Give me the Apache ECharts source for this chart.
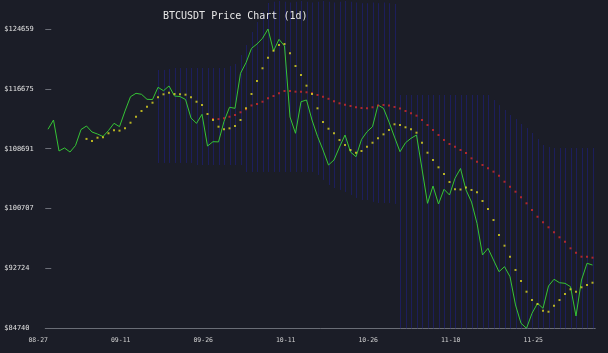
<!DOCTYPE html>
<html>
<head>
<meta charset="utf-8">
<script src="https://cdn.jsdelivr.net/npm/echarts@6/dist/echarts.min.js"></script>
<style>
html, body { margin: 0; padding: 0; background: #1b1d27; }
#report_chart { width: 608px; height: 353px; }
</style>
</head>
<body>
<div id="report_chart"></div>
<script>
// daily closes, 08-27 .. 12-04
var closes = [111290,112520,108390,108790,108250,109120,111250,111720,110920,110650,
	110320,111120,112080,111630,113720,115630,116080,115950,115280,115250,
	116880,116430,117060,115720,115650,115260,112790,112080,113280,109050,
	109630,109600,112320,114220,114080,118750,120160,122080,122660,123420,
	124659,121720,123280,122390,112920,110750,114960,115190,112520,110350,
	108520,106520,107190,108920,110520,108250,107630,109920,110960,111630,
	114520,114080,112250,110250,108290,109490,110080,110520,105990,101410,
	103720,101320,103280,102520,104750,106050,103190,101580,98740,94520,
	95410,93850,92290,92960,91620,87850,85410,84740,86740,88070,
	87410,90380,91280,90820,90740,90290,86380,91180,93410,93180];

// short average (yellow), starts at day 7
var maShort = [110000,109720,110160,110210,110750,111150,111100,111410,112160,112960,
	113720,114300,114830,115550,115950,116160,115990,115950,115900,115550,
	114960,114520,113320,112520,111630,111280,111410,111720,112520,114080,
	115990,117720,119420,120830,121760,122520,122660,121420,119720,118520,
	117100,115990,114080,112250,111360,110750,109850,109190,108520,108160,
	108390,108960,109490,110080,110610,111190,111950,111850,111550,111280,
	110830,109490,108160,107190,106210,105320,104250,103290,103250,103520,
	103190,102880,101720,100650,99180,97180,95760,94290,92520,91050,
	89620,88510,87980,87090,86950,87750,88510,89320,89940,89620,
	90210,90520,90820];
var maShortStart = 7;

// long average (red), starts at day 30
var maLong = [112650,112640,112750,112960,113190,113550,113950,114460,114660,114960,
	115420,115720,116080,116390,116400,116300,116280,116220,116080,115860,
	115630,115350,115020,114750,114560,114390,114220,114120,114080,114220,
	114460,114520,114460,114260,114060,113720,113420,113100,112520,111850,
	111190,110520,109850,109320,108960,108520,108120,107410,106960,106520,
	106080,105630,105090,104290,103630,102960,102210,101410,100520,99620,
	98880,98210,97540,96880,96290,95410,94820,94290,94280,94160];
var maLongStart = 30;

// band (blue verticals), starts at day 20
var bandUpper = [119190,119190,119320,119460,119460,119460,119460,119460,119460,119460,
	119460,119460,119460,119720,119990,121190,122520,124260,125590,126930,
	128130,128300,128400,128300,128200,128300,128400,128300,128200,128300,
	128400,128300,128200,128300,128400,128300,128200,128100,128100,128200,
	128100,128200,128100,128000,115860,115860,115860,115860,115860,115860,
	115860,115860,115860,115860,115860,115860,115860,115860,115860,115860,
	115860,115190,114520,113860,113190,112650,111990,111450,110790,109990,
	109190,108920,108790,108790,108790,108790,108790,108790,108790,108790];
var bandLower = [106790,106790,106790,106790,106790,106790,106790,106520,106520,106520,
	106520,106520,106520,106520,106520,106520,105590,105590,105590,105590,
	105590,105590,105590,105590,105590,105590,105590,105590,105590,105190,
	104520,103850,103450,103190,102920,102520,102120,101850,101850,101590,
	101450,101450,101450,101320,84000,83500,83000,82500,82000,81500,
	81000,80500,80000,79500,79000,78500,78000,77500,77000,76500,
	76000,75500,75000,74500,74000,73500,73000,72500,72000,71500,
	71000,70800,70600,70400,70200,70000,70000,70200,70400,70600];
var bandStart = 20;

var xTickLabels = ['08-27','09-11','09-26','10-11','10-26','11-10','11-25'];
var yTickLabels = ['$84740','$92724','$100707','$108691','$116675','$124659'];
var yMin = 84740, yMax = 124659;

var dates = [];
var d = new Date(2025, 7, 27);
for (var i = 0; i < closes.length; i++) {
	var mm = ('0' + (d.getMonth() + 1)).slice(-2), dd = ('0' + d.getDate()).slice(-2);
	dates.push(mm + '-' + dd);
	d.setDate(d.getDate() + 1);
}

function pad(arr, start) {
	var out = [];
	for (var i = 0; i < arr.length; i++) {
		out.push([i + start, arr[i]]);
	}
	return out;
}

var bandData = [];
for (var j = 0; j < bandUpper.length; j++) {
	bandData.push([j + bandStart, bandLower[j], bandUpper[j]]);
}

var font = '"DejaVu Sans Mono", "Liberation Mono", monospace';

function initChart() {
	var option = {
		backgroundColor : '#1b1d27',
		animation : false,
		title : {
			text : 'BTCUSDT Price Chart (1d)',
			left : 163,
			top : 11,
			padding : 0,
			textStyle : {
				color : '#e8e8e8',
				fontFamily : font,
				fontSize : 10,
				fontWeight : 'normal'
			}
		},
		grid : {
			left : 45.25,
			top : 29,
			width : 550,
			height : 299.3
		},
		xAxis : [ {
			type : 'category',
			boundaryGap : true,
			data : dates,
			axisLine : { lineStyle : { color : '#6a6d76', width : 1 } },
			axisTick : {
				alignWithLabel : true,
				length : 4,
				interval : function (idx, val) { return xTickLabels.indexOf(val) >= 0; },
				lineStyle : { color : '#6a6d76' }
			},
			axisLabel : {
				interval : function (idx, val) { return xTickLabels.indexOf(val) >= 0; },
				color : '#d0d0d0',
				fontFamily : font,
				fontSize : 6.5,
				align : 'right',
				margin : 9
			},
			splitLine : { show : false }
		} ],
		yAxis : [ {
			type : 'value',
			min : yMin,
			max : yMax,
			show : false
		}, {
			type : 'value',
			position : 'left',
			min : 0,
			max : yTickLabels.length - 1,
			interval : 1,
			axisLine : { show : false },
			axisTick : { show : true, inside : true, length : 6, lineStyle : { color : '#6a6d76' } },
			axisLabel : {
				color : '#e0e0e0',
				fontFamily : font,
				fontSize : 7,
				align : 'left',
				margin : 41,
				formatter : function (v, idx) { return yTickLabels[Math.round(v)]; }
			},
			splitLine : { show : false }
		} ],
		series : [ {
			name : 'band',
			type : 'custom',
			yAxisIndex : 0,
			clip : false,
			z : 1,
			renderItem : function (params, api) {
				var x = Math.round(api.coord([api.value(0), api.value(1)])[0]) + 0.5;
				var top = api.coord([api.value(0), api.value(2)])[1];
				var bottom = api.coord([api.value(0), Math.max(api.value(1), yMin)])[1];
				return {
					type : 'line',
					shape : { x1 : x, y1 : top, x2 : x, y2 : bottom },
					style : { stroke : '#1c1e5c', lineWidth : 1 }
				};
			},
			encode : { x : 0, y : [1, 2] },
			data : bandData
		}, {
			name : 'close',
			type : 'line',
			yAxisIndex : 0,
			z : 3,
			symbol : 'none',
			lineStyle : { color : '#36c436', width : 1 },
			data : closes
		}, {
			name : 'long',
			type : 'scatter',
			yAxisIndex : 0,
			z : 4,
			symbol : 'rect',
			symbolSize : 2,
			itemStyle : { color : '#d42a2a' },
			data : pad(maLong, maLongStart)
		}, {
			name : 'short',
			type : 'scatter',
			yAxisIndex : 0,
			z : 5,
			symbol : 'rect',
			symbolSize : 2,
			itemStyle : { color : '#e0d820' },
			data : pad(maShort, maShortStart)
		} ]
	};

	var myChart = echarts.init(document.getElementById('report_chart'));
	myChart.setOption(option);
	window.myChart = myChart;
}
initChart();
</script>
</body>
</html>
